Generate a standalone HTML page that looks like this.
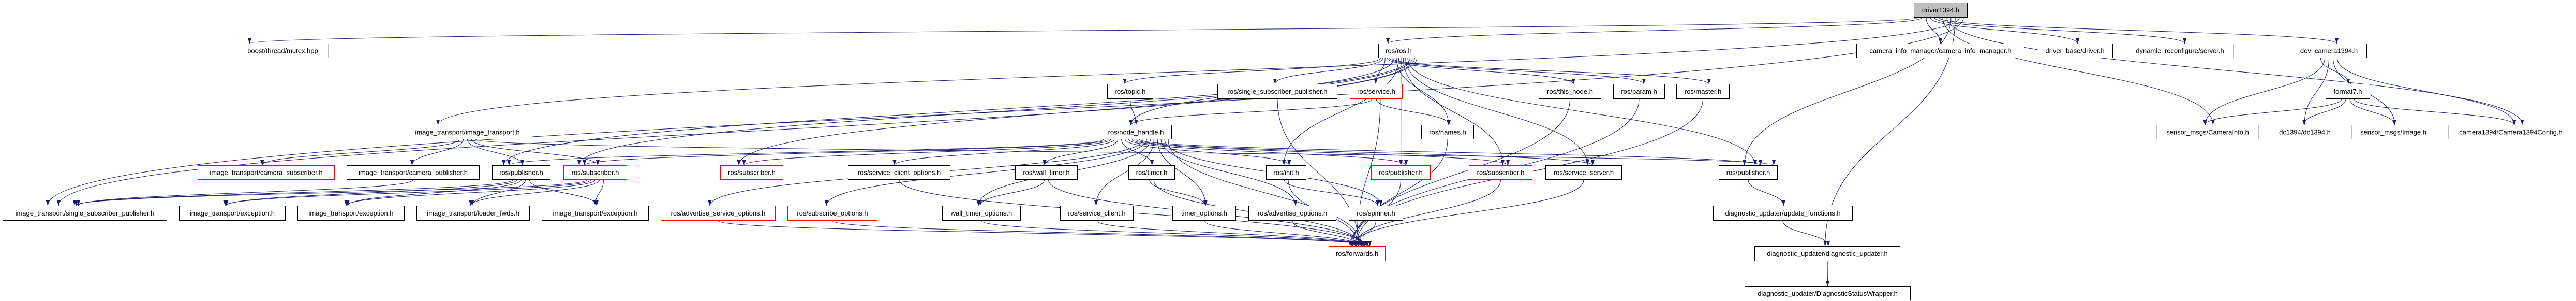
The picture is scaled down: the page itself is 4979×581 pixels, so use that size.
<!DOCTYPE html>
<html><head><meta charset="utf-8"><style>
html,body{margin:0;padding:0;background:#fff;width:4979px;height:581px;overflow:hidden}
svg{display:block}
text{font-family:"Liberation Sans",sans-serif;font-size:13px;fill:#000}
</style></head><body>
<svg id="s" width="4979" height="581" viewBox="0 0 4979 581" xmlns="http://www.w3.org/2000/svg">
<defs><marker id="a" viewBox="0 0 10 10" refX="10" refY="5" markerWidth="10" markerHeight="10" markerUnits="userSpaceOnUse" orient="auto"><path d="M0,1.5 L10,5 L0,8.5 z" fill="#191970"/></marker></defs>
<g id="e" fill="none" stroke="#191970" stroke-width="1"></g>
<g id="n"></g>
</svg>
<script>
var N={
driver:[3699,5,3803,34,"driver1394.h","f"],
mutex:[458,84,635,112,"boost/thread/mutex.hpp","g"],
ros:[2664,84,2743,112,"ros/ros.h","b"],
cim:[3588,84,3913,112,"camera_info_manager/camera_info_manager.h","b"],
drvb:[3937,84,4084,112,"driver_base/driver.h","b"],
dyn:[4109,84,4318,112,"dynamic_reconfigure/server.h","g"],
devcam:[4428,84,4575,112,"dev_camera1394.h","b"],
topic:[2140,162,2229,191,"ros/topic.h","b"],
ssp:[2353,162,2585,191,"ros/single_subscriber_publisher.h","b"],
service:[2609,162,2711,191,"ros/service.h","r"],
thisn:[2974,162,3095,191,"ros/this_node.h","b"],
param:[3118,162,3218,191,"ros/param.h","b"],
master:[3240,162,3343,191,"ros/master.h","b"],
f7:[4495,162,4581,191,"format7.h","b"],
it:[778,241,1029,269,"image_transport/image_transport.h","b"],
nh:[2126,241,2265,269,"ros/node_handle.h","b"],
names:[2747,241,2849,269,"ros/names.h","b"],
cinfo:[4168,241,4366,269,"sensor_msgs/CameraInfo.h","g"],
dc:[4389,241,4521,269,"dc1394/dc1394.h","g"],
img:[4545,241,4707,269,"sensor_msgs/Image.h","g"],
cfg:[4732,241,4974,269,"camera1394/Camera1394Config.h","g"],
csub:[382,319,647,347,"image_transport/camera_subscriber.h","r"],
cpub:[670,319,927,347,"image_transport/camera_publisher.h","b"],
publ:[951,319,1064,347,"ros/publisher.h","b"],
subl:[1089,319,1212,347,"ros/subscriber.h","r"],
sub2:[1392,319,1514,347,"ros/subscriber.h","r"],
sco:[1639,319,1837,347,"ros/service_client_options.h","b"],
wt:[1962,319,2083,347,"ros/wall_timer.h","b"],
timer:[2181,319,2271,347,"ros/timer.h","b"],
init:[2447,319,2525,347,"ros/init.h","b"],
pubr:[2650,319,2765,347,"ros/publisher.h","r"],
subr:[2839,319,2962,347,"ros/subscriber.h","r"],
ss:[2987,319,3135,347,"ros/service_server.h","b"],
pubb:[3322,319,3436,347,"ros/publisher.h","b"],
itssp:[5,397,323,426,"image_transport/single_subscriber_publisher.h","b"],
e1:[346,397,552,426,"image_transport/exception.h","b"],
e2:[575,397,782,426,"image_transport/exception.h","b"],
lf:[805,397,1024,426,"image_transport/loader_fwds.h","b"],
e3:[1047,397,1254,426,"image_transport/exception.h","b"],
aso:[1277,397,1499,426,"ros/advertise_service_options.h","r"],
so:[1522,397,1696,426,"ros/subscribe_options.h","r"],
wto:[1821,397,1973,426,"wall_timer_options.h","b"],
scl:[2049,397,2191,426,"ros/service_client.h","b"],
to:[2266,397,2389,426,"timer_options.h","b"],
ao:[2413,397,2583,426,"ros/advertise_options.h","b"],
sp:[2607,397,2712,426,"ros/spinner.h","b"],
uf:[3311,397,3581,426,"diagnostic_updater/update_functions.h","b"],
fw:[2568,475,2678,504,"ros/forwards.h","r"],
du:[3391,475,3673,504,"diagnostic_updater/diagnostic_updater.h","b"],
dsw:[3372,553,3693,580,"diagnostic_updater/DiagnosticStatusWrapper.h","b"]
};
var E={
driver:"mutex ros cim drvb dyn devcam cinfo cfg pubb du it itssp",
ros:"topic ssp service thisn param master nh names init pubr subr ss pubb publ subl sub2 itssp",
it:"csub cpub publ subl pubb",
cpub:"itssp",
publ:"itssp e1 e2 lf e3",
subl:"itssp e1 e2 lf e3",
topic:"nh",service:"nh names fw",ssp:"fw",thisn:"fw",param:"fw",master:"fw",
nh:"publ subl sub2 sco wt timer init pubr subr ss pubb aso so wto scl to ao sp fw",
sco:"fw",wt:"wto fw",timer:"to fw",init:"sp fw",pubr:"fw",subr:"fw",ss:"fw",names:"fw",
aso:"fw",so:"fw",wto:"fw",scl:"fw",to:"fw",ao:"fw",sp:"fw",
pubb:"uf",uf:"du",du:"dsw",
devcam:"f7 cinfo dc img cfg",f7:"cinfo dc img cfg"};
var ns="http://www.w3.org/2000/svg",eg=document.getElementById("e"),ng=document.getElementById("n");
function cx(b){return (b[0]+b[2])/2}
for(var s in E){E[s].split(" ").forEach(function(t,i,arr){
 var A=N[s],B=N[t];var sx,sy,tx,ty;
 var off=(i-(arr.length-1)/2)*Math.min(8,(A[2]-A[0])/(arr.length+1));
 sx=cx(A)+off;sy=A[3];
 var d=cx(B)-cx(A);
 tx=cx(B)-Math.max(-(B[2]-B[0])/2+6,Math.min((B[2]-B[0])/2-6,d*-0.02));
 ty=B[1];
 if(B[1]<=A[1]){sy=A[3];}
 var dy=ty-sy;
 var p=document.createElementNS(ns,"path");
 p.setAttribute("d","M"+sx+","+sy+" C"+sx+","+(sy+dy*0.5)+" "+tx+","+(ty-dy*0.5)+" "+tx+","+ty);
 p.setAttribute("marker-end","url(#a)");eg.appendChild(p);
});}
for(var k in N){var b=N[k];
 var r=document.createElementNS(ns,"rect");
 r.setAttribute("x",b[0]+.5);r.setAttribute("y",b[1]+.5);r.setAttribute("width",b[2]-b[0]-1);r.setAttribute("height",b[3]-b[1]-1);
 r.setAttribute("fill",b[5]=="f"?"#bfbfbf":"#fff");
 r.setAttribute("stroke",b[5]=="r"?"#ff0000":b[5]=="g"?"#bfbfbf":"#000");
 ng.appendChild(r);
 var t=document.createElementNS(ns,"text");t.setAttribute("x",cx(b));t.setAttribute("y",(b[1]+b[3])/2+4.5);
 t.setAttribute("text-anchor","middle");t.textContent=b[4];ng.appendChild(t);}
</script>
</body></html>
